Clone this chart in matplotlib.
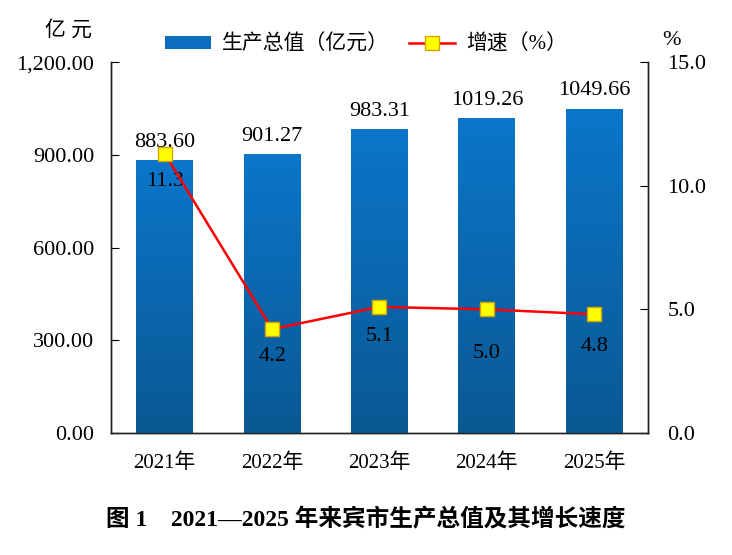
import numpy as np
import matplotlib.pyplot as plt
from matplotlib.colors import LinearSegmentedColormap
from matplotlib.patches import Patch
from matplotlib.lines import Line2D

plt.rcParams['font.family'] = ['Liberation Serif', 'Noto Sans CJK SC', 'DejaVu Sans']

# data
years = ["2021年", "2022年", "2023年", "2024年", "2025年"]
gdp = [883.60, 901.27, 983.31, 1019.26, 1049.66]
growth = [11.3, 4.2, 5.1, 5.0, 4.8]

# how far below each marker its label sits (points) - uneven in the original
growth_label_drop = [20, 20, 21, 32, 23]

fig = plt.figure(figsize=(7.32, 5.55), dpi=100)
ax = fig.add_axes([0.1516, 0.2198, 0.7336, 0.6684])
ax2 = ax.twinx()

x = np.arange(len(years))
bars = ax.bar(x, gdp, width=0.53, color="#0A6DBE", zorder=2)

# vertical gradient inside each bar
cmap = LinearSegmentedColormap.from_list("blu", ["#0B5893", "#0A76CA"])
grad = np.linspace(0, 1, 256).reshape(-1, 1)
for b in bars:
    x0, w, h = b.get_x(), b.get_width(), b.get_height()
    im = ax.imshow(grad, extent=[x0, x0 + w, 0, h], origin="lower",
                   aspect="auto", cmap=cmap, zorder=3)
    im.set_clip_path(b)

for xi, v in zip(x, gdp):
    ax.annotate(f"{v:.2f}", (xi, v), xytext=(0, 6), textcoords="offset points",
                ha="center", va="bottom", fontsize=16)

ax.set_xlim(-0.5, len(years) - 0.5)
ax.set_ylim(0, 1200)
ax.set_yticks([0, 300, 600, 900, 1200])
ax.set_yticklabels([f"{t:,.2f}" for t in [0, 300, 600, 900, 1200]])
ax.set_xticks(x)
ax.set_xticklabels(years)

ax2.plot(x, growth, color="#FF0000", lw=1.8, marker="s", markersize=10,
         markerfacecolor="#FFFF00", markeredgecolor="#D8A400",
         markeredgewidth=1.0, zorder=5)
for xi, v, d in zip(x, growth, growth_label_drop):
    ax2.annotate(f"{v:.1f}", (xi, v), xytext=(0, -d), textcoords="offset points",
                 ha="center", va="center", fontsize=16)
ax2.set_ylim(0, 15)
ax2.set_yticks([0, 5, 10, 15])
ax2.set_yticklabels([f"{t:.1f}" for t in [0, 5, 10, 15]])

for a in (ax, ax2):
    a.spines["top"].set_visible(False)
    for s in a.spines.values():
        s.set_linewidth(1.0)
        s.set_color("#222222")
ax.tick_params(axis="y", direction="in", length=6, pad=12, labelsize=16)
ax.tick_params(axis="x", length=0, pad=15, labelsize=15)
ax2.tick_params(axis="y", direction="in", length=6, pad=14, labelsize=16)

fig.text(0.062, 0.945, "亿 元", ha="left", va="center", fontsize=15)
fig.text(0.918, 0.927, "%", ha="center", va="center", fontsize=16)

handles = [Patch(facecolor="#0A6DBE"),
           Line2D([], [], color="#FF0000", lw=1.8, marker="s", markersize=10,
                  markerfacecolor="#FFFF00", markeredgecolor="#D8A400")]
fig.legend(handles, ["生产总值（亿元）", "增速（%）"], loc="center",
           bbox_to_anchor=(0.5, 0.919), ncol=2, frameon=False, fontsize=15,
           handlelength=2.2, handleheight=0.6, columnspacing=1.0,
           handletextpad=0.5)

fig.text(0.5, 0.064, "图 1    2021—2025 年来宾市生产总值及其增长速度",
         ha="center", va="center", fontsize=17, fontweight="bold")

fig.savefig("out.png", dpi=100)
